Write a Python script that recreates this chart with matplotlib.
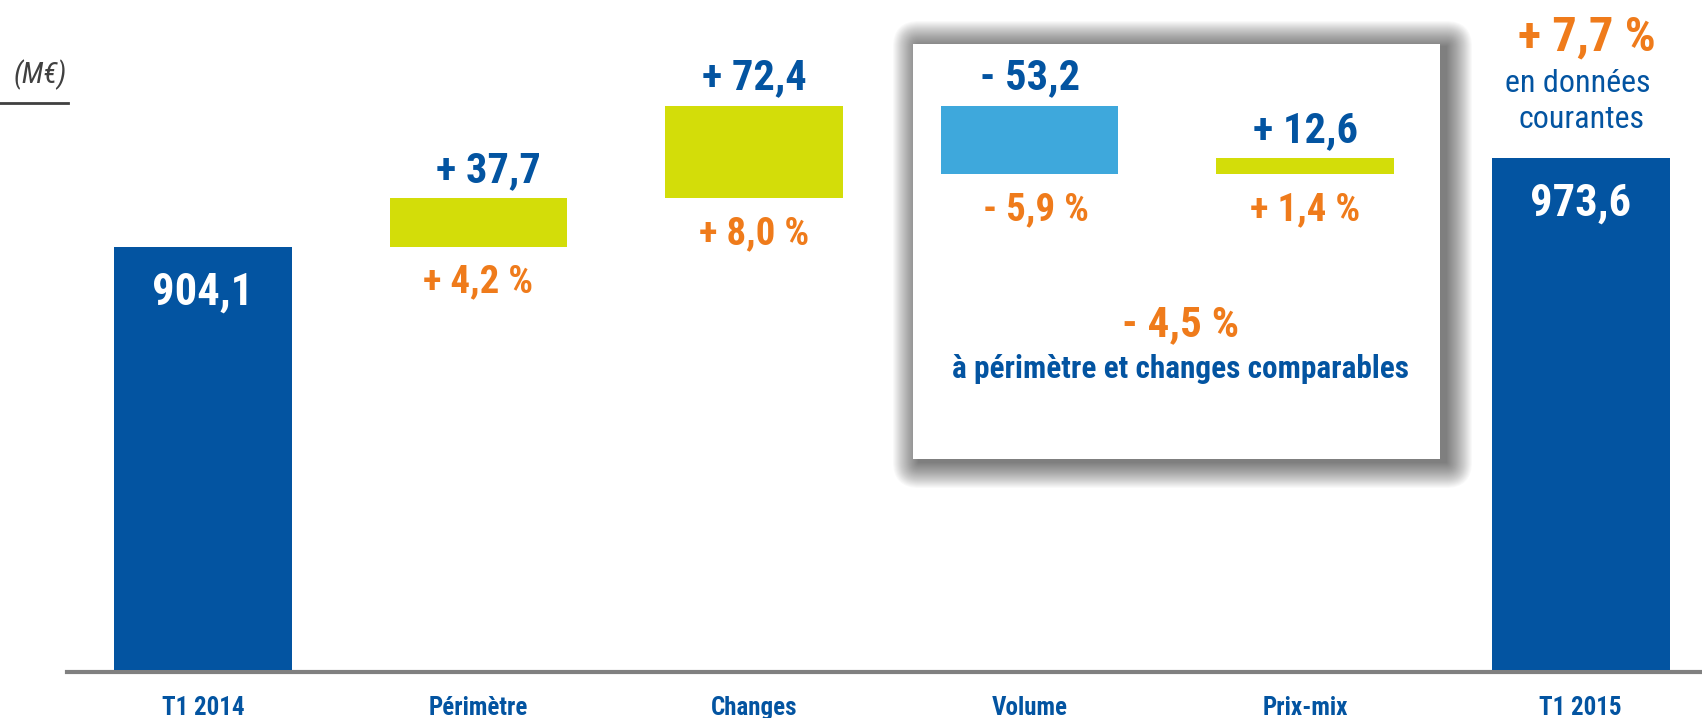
import matplotlib
matplotlib.use("Agg")
import matplotlib.pyplot as plt
from matplotlib import font_manager
from matplotlib.patches import FancyBboxPatch, Rectangle
from matplotlib.transforms import IdentityTransform

# data (M€)
categories = ["T1 2014", "Périmètre", "Changes", "Volume", "Prix-mix", "T1 2015"]
start_value = 904.1
deltas = [37.7, 72.4, -53.2, 12.6]
end_value = 973.6
delta_labels = ["+ 37,7", "+ 72,4", "- 53,2", "+ 12,6"]
pct_labels = ["+ 4,2 %", "+ 8,0 %", "- 5,9 %", "+ 1,4 %"]
total_labels = ["904,1", "973,6"]

DARK = "#0354A1"
LIME = "#D3DD09"
LIGHT = "#3EA8DC"
ORANGE = "#EF7B1B"

# the original uses a narrow bold face: take one that really has a bold file
NARROW_STRETCH = ("condensed", "semi-condensed", "extra-condensed", "ultra-condensed")
cands = []
for f in font_manager.fontManager.ttflist:
    w = f.weight if isinstance(f.weight, int) else font_manager.weight_dict.get(f.weight, 400)
    narrow = "Narrow" in f.name or "Condensed" in f.name or f.stretch in NARROW_STRETCH
    if narrow and w >= 600 and f.style == "normal":
        cands.append((f.name, f.stretch))
pref = ["Liberation Sans Narrow", "Arial Narrow", "Roboto Condensed", "DejaVu Sans"]
cands.sort(key=lambda c: pref.index(c[0]) if c[0] in pref else len(pref))
if cands:
    FONT = [cands[0][0], "Liberation Sans", "DejaVu Sans"]
    plt.rcParams["font.stretch"] = cands[0][1]
    k = 1.0
else:
    FONT = ["Liberation Sans", "DejaVu Sans"]
    k = 0.88
plt.rcParams["font.family"] = FONT

W, H = 1702, 718
fig = plt.figure(figsize=(W / 100, H / 100), dpi=100)
ax = fig.add_axes([67 / W, 46 / H, 1 - 67 / W, 672 / H])
ax.patch.set_visible(False)
base = 574.0
ax.set_ylim(572.4, 1096.6)
ax.set_xlim(-0.493, 5.44)
bw = 0.645

# totals
ax.bar([0, 5], [start_value - base, end_value - base], bw, bottom=base, color=DARK, zorder=3)
for x, v, lab in zip([0, 5], [start_value, end_value], total_labels):
    ax.annotate(lab, (x, v), xytext=(0, -58), textcoords="offset pixels", ha="center",
                va="baseline", color="white", fontsize=32 * k, fontweight="bold", zorder=4)

# deltas
level = start_value
for i, d in enumerate(deltas):
    x = i + 1
    lo, hi = (level, level + d) if d >= 0 else (level + d, level)
    ax.bar(x, hi - lo, bw, bottom=lo, color=LIME if d >= 0 else LIGHT, zorder=3)
    ax.annotate(delta_labels[i], (x, hi), xytext=(10 if i == 0 else 0, 16), textcoords="offset pixels",
                ha="center", va="baseline", color=DARK, fontsize=30.5 * k, fontweight="bold")
    ax.annotate(pct_labels[i], (x, lo), xytext=(6 if i == 2 else 0, -46), textcoords="offset pixels",
                ha="center", va="baseline", color=ORANGE, fontsize=28 * k, fontweight="bold")
    level += d

# axis styling
for s in ("left", "right", "top"):
    ax.spines[s].set_visible(False)
ax.spines["bottom"].set_color("#808080")
ax.spines["bottom"].set_linewidth(3)
ax.set_yticks([])
ax.set_xticks(range(len(categories)))
ax.set_xticklabels(categories, fontsize=18 * k, fontweight="bold", color=DARK)
ax.tick_params(axis="x", length=0, pad=17)

# shadowed box around Volume / Prix-mix (pixel coordinates, y up), drawn under the axes
bx0, bx1, by0, by1 = 913, 1440, H - 459, H - 44
px = IdentityTransform()
for j in range(26, 0, -1):
    fig.add_artist(FancyBboxPatch((bx0 + 6, by0 - 3), bx1 - bx0, by1 - by0,
                                  boxstyle=f"round,pad={j},rounding_size={j}", transform=px,
                                  facecolor="black", alpha=0.022, edgecolor="none", zorder=-2))
fig.add_artist(Rectangle((bx0, by0), bx1 - bx0, by1 - by0, transform=px,
                         facecolor="white", edgecolor="none", zorder=-1))
fig.text(1181 / W, 1 - 336 / H, "- 4,5 %", ha="center", va="baseline", color=ORANGE,
         fontsize=31 * k, fontweight="bold", zorder=5)
fig.text(1181 / W, 1 - 378 / H, "à périmètre et changes comparables", ha="center", va="baseline",
         color=DARK, fontsize=22.5 * k, fontweight="bold", zorder=5)

# total change note
fig.text(1587 / W, 1 - 50 / H, "+ 7,7 %", ha="center", va="baseline", color=ORANGE,
         fontsize=35 * k, fontweight="bold")
fig.text(1578 / W, 1 - 92 / H, "en données", ha="center", va="baseline", color=DARK, fontsize=23 * k)
fig.text(1582 / W, 1 - 128 / H, "courantes", ha="center", va="baseline", color=DARK, fontsize=23 * k)

# unit
fig.text(40 / W, 1 - 75 / H, "(M€)", ha="center", va="center", color="#404040",
         fontsize=21 * k, style="italic")
fig.add_artist(plt.Line2D([0, 68 / W], [1 - 103 / H] * 2, color="#404040", linewidth=2))

fig.savefig("out.png", dpi=100)
